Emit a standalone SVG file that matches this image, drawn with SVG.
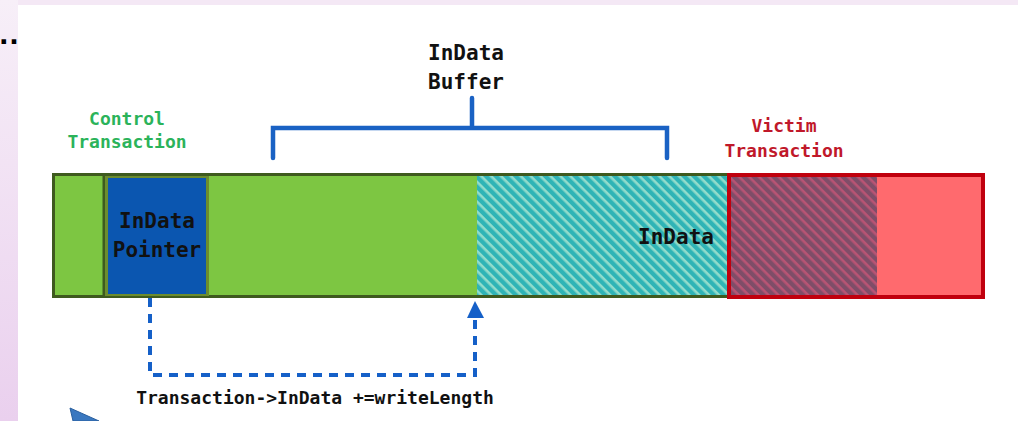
<svg xmlns="http://www.w3.org/2000/svg" width="1018" height="421" viewBox="0 0 1018 421">
  <defs>
    <linearGradient id="bgGrad" x1="0" y1="0" x2="0" y2="1">
      <stop offset="0" stop-color="#f7eff8"/>
      <stop offset="1" stop-color="#ead0ee"/>
    </linearGradient>
    <pattern id="hatchTeal" patternUnits="userSpaceOnUse" width="7" height="7" patternTransform="rotate(45)">
      <rect width="7" height="7" fill="#2fb4b6"/>
      <rect y="0" width="7" height="2.6" fill="#92dccb"/>
    </pattern>
    <pattern id="hatchRed" patternUnits="userSpaceOnUse" width="7" height="7" patternTransform="rotate(45)">
      <rect width="7" height="7" fill="#7f4d68"/>
      <rect y="0" width="7" height="2.6" fill="#b85474"/>
    </pattern>
    <style>
      .mono { font-family: "DejaVu Sans Mono", "Liberation Mono", monospace; font-weight: bold; }
      .lbl { font-size: 18px; text-anchor: middle; }
      .big { font-size: 21px; text-anchor: middle; fill: #111; }
      .bracket { fill: none; stroke: #1a62c4; stroke-width: 4.5; stroke-linecap: round; }
      .dash { fill: none; stroke: #1560c8; stroke-width: 4; stroke-dasharray: 9 7; }
    </style>
  </defs>

  <!-- background -->
  <rect x="0" y="0" width="1018" height="421" fill="#f4e8f5"/>
  <rect x="0" y="0" width="18" height="421" fill="url(#bgGrad)"/>
  <text x="-2" y="44" font-family="Liberation Sans, sans-serif" font-weight="bold" font-size="32" fill="#000">…</text>
  <rect x="18" y="5" width="1000" height="416" fill="#ffffff"/>

  <!-- labels above -->
  <g id="label-control">
    <text class="mono lbl" x="127" y="125" fill="#2bb35a">Control</text>
    <text class="mono lbl" x="127" y="148" fill="#2bb35a">Transaction</text>
  </g>
  <g id="label-victim">
    <text class="mono lbl" x="784" y="132" fill="#c0182a">Victim</text>
    <text class="mono lbl" x="784" y="157" fill="#c0182a">Transaction</text>
  </g>
  <g id="indata-buffer">
    <text class="mono big" x="466" y="60">InData</text>
    <text class="mono big" x="466" y="89">Buffer</text>
    <path class="bracket" d="M273,158 V128 H667 V158 M472,128 V98"/>
  </g>

  <!-- control transaction bar -->
  <g id="control-transaction">
    <rect x="53.5" y="174.5" width="674" height="122" fill="#7dc642" stroke="#3e5a1e" stroke-width="3"/>
    <line x1="104" y1="175" x2="104" y2="296" stroke="#3e5a1e" stroke-width="3"/>
  </g>
  <g id="indata-pointer">
    <rect x="105" y="176" width="104" height="120" fill="#6c8c2e"/>
    <rect x="108" y="178" width="98" height="116" fill="#0b56b0"/>
    <text class="mono big" x="157" y="228">InData</text>
    <text class="mono big" x="157" y="257">Pointer</text>
  </g>
  <g id="indata">
    <rect x="477" y="176" width="250" height="119" fill="url(#hatchTeal)"/>
    <text class="mono big" x="676" y="244">InData</text>
  </g>

  <!-- victim transaction -->
  <g id="victim-transaction">
    <rect x="729" y="175" width="254" height="122" fill="#ff6a6e" stroke="#c0000e" stroke-width="4"/>
    <rect x="731" y="177" width="146" height="118" fill="url(#hatchRed)"/>
  </g>

  <!-- connectors -->
  <g id="connectors">
    <path class="dash" d="M150,298 V375 H475 V318"/>
    <polygon points="475,301 467,318 484,318" fill="#1560c8"/>
    <text class="mono" x="315" y="404" font-size="18" text-anchor="middle" fill="#111">Transaction-&gt;InData +=writeLength</text>
  </g>

  <!-- partial pointer shape at bottom-left -->
  <polygon points="70,408 99,421 73,421" fill="#3a78c0" stroke="#2a5f9e" stroke-width="1"/>
</svg>
